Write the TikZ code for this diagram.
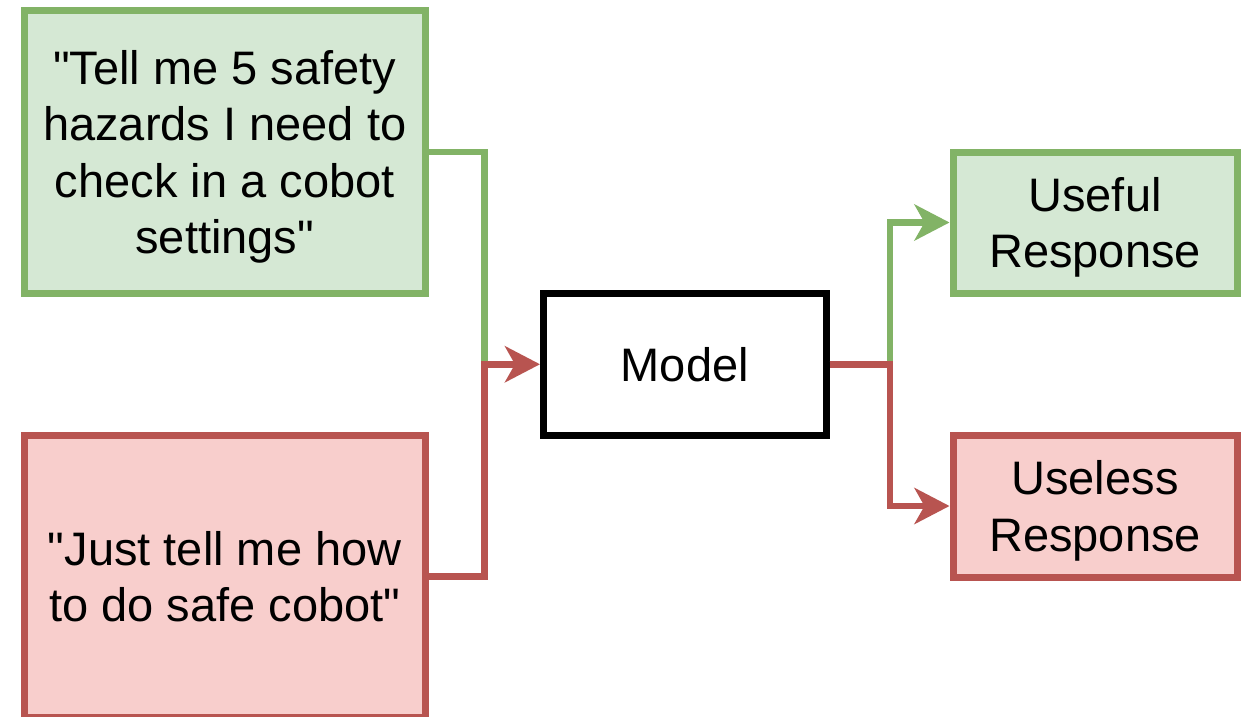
\documentclass[tikz,border=0pt]{standalone}
\usepackage{fontspec}
\newfontfamily\diagfont{Liberation Sans}
\usetikzlibrary{arrows.meta}
\definecolor{gstroke}{HTML}{82B366}
\definecolor{gfill}{HTML}{D5E8D4}
\definecolor{rstroke}{HTML}{B85450}
\definecolor{rfill}{HTML}{F8CECC}
\tikzset{
  boxbase/.style={rectangle, line width=7pt, inner sep=0pt, align=center,
    font=\diagfont\fontsize{47}{56.5}\selectfont, text=black},
  greenbox/.style={boxbase, draw=gstroke, fill=gfill},
  redbox/.style={boxbase, draw=rstroke, fill=rfill},
  modelbox/.style={boxbase, draw=black, fill=white},
  gline/.style={draw=gstroke, line width=6.5pt},
  rline/.style={draw=rstroke, line width=6.5pt},
  tip/.style={-{Stealth[length=35pt,width=36pt,inset=10pt]}}
}
\begin{document}
\begin{tikzpicture}[x=1pt,y=-1pt]
\clip (0,0) rectangle (1248,716);
\fill[white] (0,0) rectangle (1248,716);
\node[greenbox, minimum width=400.5pt, minimum height=282.5pt] (g) at (224.75,151.75)
  {"Tell me 5 safety\\hazards I need to\\check in a cobot\\\smash{settings"}};
\node[redbox, minimum width=400.5pt, minimum height=282.5pt] (r) at (224.75,576.5)
  {"Just tell me how\\to do safe cobot"};
\node[modelbox, minimum width=282.5pt, minimum height=141.5pt] (m) at (684.75,364.25) {Model};
\node[greenbox, minimum width=284pt, minimum height=141pt] (u) at (1095,222.5) {Useful\\\smash{Response}};
\node[redbox, minimum width=284pt, minimum height=142pt] (l) at (1095,506) {Useless\\\smash{Response}};
\coordinate (jl) at (484.5,364.25);
\coordinate (jr) at (890,364.25);
\draw[gline] (g.east) -| (jl);
\draw[rline, tip] (r.east) -| (jl) -- (m.west);
\draw[gline, tip] (m.east) -- (jr) |- (u.west);
\draw[rline, tip] (m.east) -- (jr) |- (l.west);
\end{tikzpicture}
\end{document}
